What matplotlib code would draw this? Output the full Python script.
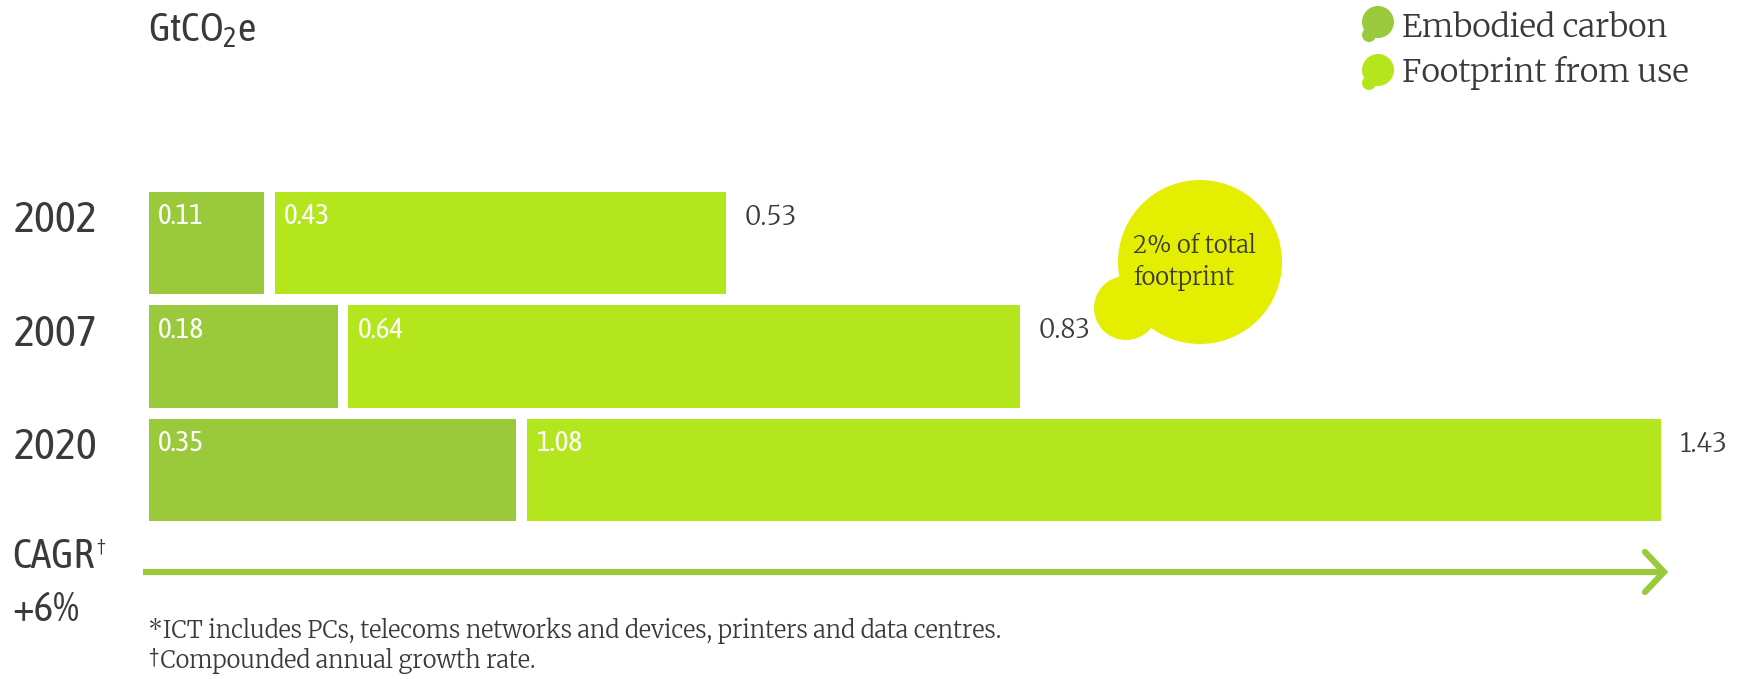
import matplotlib
matplotlib.use("Agg")
import matplotlib.pyplot as plt
from matplotlib.patches import Circle

# data (GtCO2e)
years = ["2002", "2007", "2020"]
embodied = [0.11, 0.18, 0.35]
use = [0.43, 0.64, 1.08]
totals = [0.53, 0.83, 1.43]

c_emb = "#9aca3c"
c_use = "#b4e61e"
c_bubble = "#e3ee00"
c_text = "#3a3a3a"

narrow = ["Asap Condensed", "Liberation Sans", "DejaVu Sans"]
serif = ["Merriweather", "Liberation Serif", "DejaVu Serif"]
plt.rcParams["mathtext.fontset"] = "custom"
plt.rcParams["mathtext.rm"] = "Asap Condensed"

W, H = 1751, 679
fig = plt.figure(figsize=(W / 100, H / 100), dpi=100)

# main bar axes: 0 at x=148.5px, 1050 px per unit
ax = fig.add_axes([148.5 / W, 1 - 526.75 / H, 1575 / W, 340.5 / H])
ax.set_xlim(0, 1.5)
ax.set_ylim(2.5, -0.5)
ax.axis("off")

gap = 0.01
ypos = list(range(len(years)))
ax.barh(ypos, embodied, height=0.9, color=c_emb, align="center")
left_use = [e + gap for e in embodied]
ax.barh(ypos, use, left=left_use, height=0.9, color=c_use, align="center")

for i in ypos:
    top = i - 0.45
    ax.text(0.009, top + 0.22, f"{embodied[i]:.2f}", color="white",
            family=narrow, fontsize=21, va="center", ha="left")
    ax.text(left_use[i] + 0.009, top + 0.22, f"{use[i]:.2f}", color="white",
            family=narrow, fontsize=21, va="center", ha="left")
    ax.text(left_use[i] + use[i] + 0.018, top + 0.22, f"{totals[i]:.2f}",
            color=c_text, family=serif, fontsize=18.5, va="center", ha="left")
    ax.text(-0.128, top + 0.25, years[i], color=c_text, family=narrow,
            fontsize=32, va="center", ha="left", clip_on=False)

# overlay in pixel coords for the decorations
ov = fig.add_axes([0, 0, 1, 1], zorder=-1)
ov.set_xlim(0, W)
ov.set_ylim(H, 0)
ov.axis("off")


def blob(cx, cy, r, color, lobe_r, lobe_dx, lobe_dy):
    ov.add_patch(Circle((cx, cy), r, color=color, lw=0))
    ov.add_patch(Circle((cx + lobe_dx, cy + lobe_dy), lobe_r, color=color, lw=0))


# title
ov.text(148, 31, r"GtCO$_2$e", color=c_text, family=narrow, fontsize=29,
        va="center", ha="left")

# legend
blob(1378, 22, 16, c_emb, 7, -9, 13)
blob(1378, 70, 16, c_use, 7, -9, 13)
ov.text(1402, 28, "Embodied carbon", color=c_text, family=serif,
        fontsize=23, va="center", ha="left")
ov.text(1402, 73, "Footprint from use", color=c_text, family=serif,
        fontsize=23, va="center", ha="left")

# bubble (nudged right so it clears the 2007 total)
bx = 1200
blob(bx, 262, 82, c_bubble, 32, -74, 46)
ov.text(bx - 67, 246, "2% of total", color=c_text, family=serif, fontsize=17,
        va="center", ha="left")
ov.text(bx - 67, 278, "footprint", color=c_text, family=serif, fontsize=17,
        va="center", ha="left")

# CAGR arrow
ov.plot([143, 1662], [572, 572], color=c_emb, lw=4.5, solid_capstyle="butt")
ov.plot([1645, 1664, 1645], [552, 572, 592], color=c_emb, lw=4.5,
        solid_capstyle="round", solid_joinstyle="miter")
t = ov.text(12, 557, "CAGR", color=c_text, family=narrow, fontsize=30,
            va="center", ha="left")
ov.annotate("†", xy=(1, 1), xycoords=t, xytext=(1, -1),
            textcoords="offset points", color=c_text, fontsize=15,
            family=serif, va="top", ha="left")
ov.text(12, 610, "+6%", color=c_text, family=narrow, fontsize=30,
        va="center", ha="left")

# footnotes
ov.text(148, 631, "*ICT includes PCs, telecoms networks and devices, printers and data centres.",
        color=c_text, family=serif, fontsize=17, va="center", ha="left")
ov.text(148, 661, "†Compounded annual growth rate.", color=c_text,
        family=serif, fontsize=17, va="center", ha="left")

fig.savefig("out.png", dpi=100, facecolor="white")
